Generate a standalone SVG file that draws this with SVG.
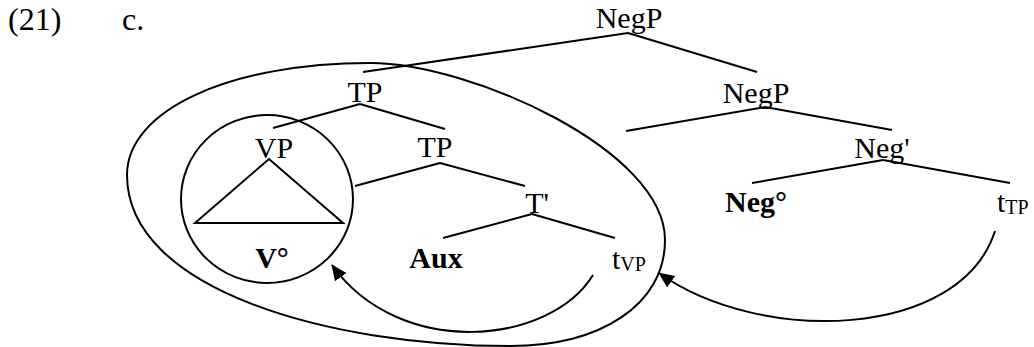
<svg xmlns="http://www.w3.org/2000/svg" width="1034" height="347" viewBox="0 0 1034 347">
<defs>
<style>
text{font-family:'Liberation Serif','Times New Roman',Times,'DejaVu Serif',serif;font-size:30px;fill:#000}
.lab{font-size:32px}
.b{font-weight:bold}
.m{text-anchor:middle}
.sub{font-size:20px}
line,path,ellipse,polygon{stroke:#000;stroke-width:2;fill:none}
</style>
<marker id="ah" markerWidth="16" markerHeight="14" refX="15" refY="7" orient="auto" markerUnits="userSpaceOnUse">
<path d="M0,0 L16,7 L0,14 Z" style="fill:#000;stroke:none"/>
</marker>
</defs>
<rect width="1034" height="347" fill="#fff"/>
<g id="label" font-family="Liberation Serif, serif">
<text class="lab" x="8" y="30">(21)</text>
<text class="lab" x="122" y="30">c.</text>
</g>
<g id="encirclements">
<ellipse id="vp-circle" cx="267" cy="199" rx="86" ry="84"/>
<path id="tp-ellipse" d="M127,175 C127,110 230,63 370,63 C470,63 665,150 665,240 C665,305 600,346 510,346 C330,346 127,290 127,175 Z"/>
</g>
<g id="edges">
<line x1="628" y1="33" x2="363" y2="72"/>
<line x1="628" y1="33" x2="757" y2="72"/>
<line x1="765" y1="107" x2="626" y2="131"/>
<line x1="765" y1="107" x2="892" y2="130"/>
<line x1="883" y1="160" x2="752" y2="183"/>
<line x1="883" y1="160" x2="1010" y2="183"/>
<line x1="360" y1="104" x2="273" y2="128"/>
<line x1="360" y1="104" x2="445" y2="129"/>
<line x1="440" y1="163" x2="355" y2="186"/>
<line x1="440" y1="163" x2="525" y2="186"/>
<line x1="532" y1="214" x2="443" y2="238"/>
<line x1="532" y1="214" x2="615" y2="238"/>
<polygon points="269,159 195,223 343,223"/>
</g>
<g id="movements">
<path d="M593,275 C550,345 400,360 332,265" marker-end="url(#ah)"/>
<path d="M995,231 C960,340 760,345 659,273" marker-end="url(#ah)"/>
</g>
<g id="n-negp"><text class="m" x="629" y="28">NegP</text></g>
<g id="n-negp2"><text class="m" x="756" y="103">NegP</text></g>
<g id="n-negbar"><text class="m" x="882" y="158">Neg'</text></g>
<g id="n-neg0"><text class="m b" x="756" y="212">Neg°</text></g>
<g id="n-ttp"><text x="997" y="212">t<tspan class="sub" dy="2">TP</tspan></text></g>
<g id="n-tp"><text class="m" x="365" y="102">TP</text></g>
<g id="n-tp2"><text class="m" x="435" y="157">TP</text></g>
<g id="n-vp"><text class="m" x="274" y="158">VP</text></g>
<g id="n-tbar"><text class="m" x="537" y="213">T'</text></g>
<g id="n-aux"><text class="m b" x="436" y="268">Aux</text></g>
<g id="n-v0"><text class="m b" x="272" y="268">V°</text></g>
<g id="n-tvp"><text x="612" y="269">t<tspan class="sub" dy="2">VP</tspan></text></g>
</svg>
